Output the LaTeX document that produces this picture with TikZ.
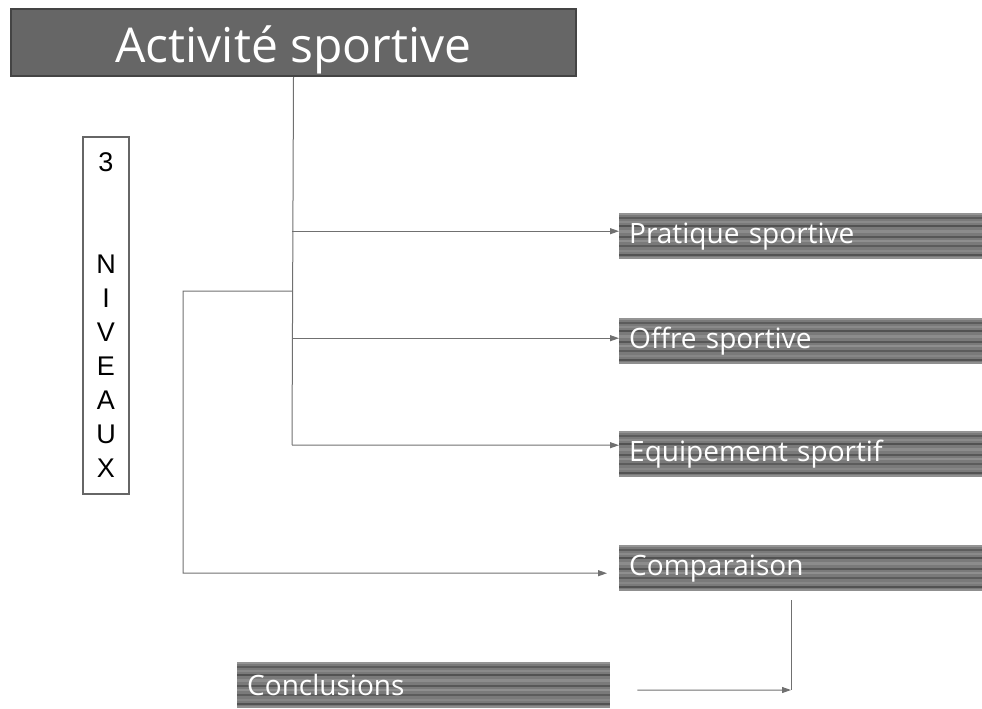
\documentclass[tikz,border=0pt]{standalone}
\usepackage{fontspec}
\setmainfont{Open Sans}
\newfontfamily\arialfont{Liberation Sans}
\usepackage{tikz}
\usetikzlibrary{arrows.meta,positioning}

\definecolor{boxgray}{HTML}{666666}
\definecolor{edgegray}{HTML}{444444}
\definecolor{linegray}{HTML}{707070}

\tikzset{
  titlebox/.style={fill=boxgray, draw=edgegray, line width=2pt, text=white,
    text height=41pt, text depth=0pt, font=\fontsize{48}{54}\selectfont},
  stripebox/.style={fill=black!52, minimum height=46pt, inner xsep=10pt, inner ysep=0pt,
    align=left, text=white, font=\fontsize{28}{32}\selectfont,
    path picture={
      \foreach \a/\b/\c in {0/2/42, 4/6/64, 8/10/46, 12/14/68, 17/20/45, 23/25/66,
                            27/29/44, 32/34/64, 37/39/47, 41/43/68, 44/46/44}{
        \fill[black!\c] ([yshift=-\a pt]path picture bounding box.north west)
          rectangle ([yshift=-\b pt]path picture bounding box.north east);
      }}},
  levelbox/.style={draw=boxgray, line width=2pt, align=center, inner sep=0pt,
    font=\arialfont\fontsize{27}{34}\selectfont},
  link/.style={draw=linegray, line width=1pt},
  arrow/.style={link, -{Triangle[length=9pt,width=6pt]}}
}

\begin{document}
\begin{tikzpicture}[x=1pt, y=-1pt]
		\useasboundingbox (0,0) rectangle (982,709);

		\node[titlebox, anchor=north west, minimum width=565pt, minimum height=67pt] (title) at (10,8) {Activité sportive};
		\node[levelbox, anchor=north west, minimum width=46pt, minimum height=357pt] (levels) at (82,136)
			{3\\[68pt]N\\I\\V\\E\\A\\U\\X};

		\node[stripebox, text width=343pt, anchor=north west] (pratique) at (619,213) {Pratique sportive};
		\node[stripebox, text width=343pt, anchor=north west] (offre) at (619,318) {Offre sportive};
		\node[stripebox, text width=343pt, anchor=north west] (equipement) at (619,431) {Equipement sportif};
		\node[stripebox, text width=343pt, anchor=north west] (comparaison) at (619,545) {Comparaison};
		\node[stripebox, text width=353pt, anchor=north west] (conclusions) at (237,662) {Conclusions};

		\coordinate (trunkend) at (292,445);
		\coordinate (elbowtop) at (183,291);
		\coordinate (elbowbottom) at (183,573);
		\coordinate (dropend) at (791,690);

		\draw [link] (title.south) -- (trunkend);
		\draw [arrow] ([yshift=5pt]pratique.west -| trunkend) -- ([yshift=5pt]pratique.west);
		\draw [arrow] ([yshift=3pt]offre.west -| trunkend) -- ([yshift=3pt]offre.west);
		\draw [arrow] (trunkend) -- ([yshift=9pt]equipement.west);
		\draw [arrow] (trunkend |- elbowtop) -- (elbowtop) -- (elbowbottom)
			-- ([xshift=-12pt,yshift=-5pt]comparaison.west);
		\draw [link] ([yshift=-9pt]comparaison.south -| dropend) -- (dropend);
		\draw [arrow] ([xshift=27pt,yshift=-5pt]conclusions.east) -- (dropend);
\end{tikzpicture}
\end{document}
